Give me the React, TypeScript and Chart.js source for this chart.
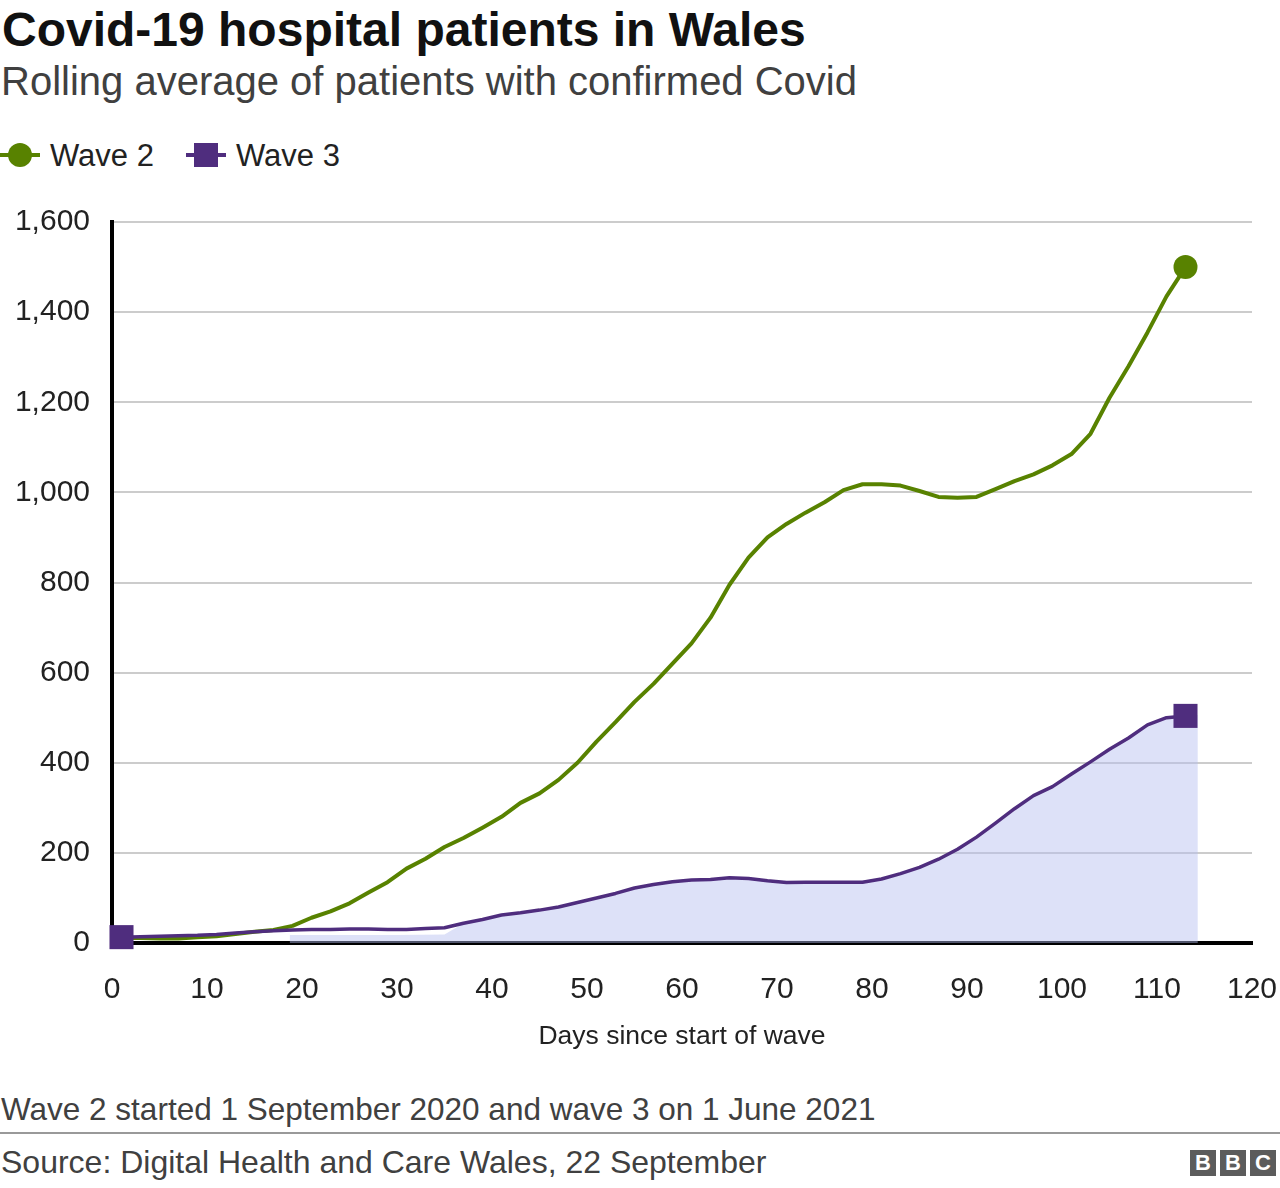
import React, { useEffect, useRef } from 'react';
import { Chart, registerables } from 'chart.js';

Chart.register(...registerables);

// ---------- data ----------
const days = [
  1, 3, 5, 7, 9, 11, 13, 15, 17, 19, 21, 23, 25, 27, 29, 31, 33, 35, 37, 39,
  41, 43, 45, 47, 49, 51, 53, 55, 57, 59, 61, 63, 65, 67, 69, 71, 73, 75, 77, 79,
  81, 83, 85, 87, 89, 91, 93, 95, 97, 99, 101, 103, 105, 107, 109, 111, 113,
];
const wave2Values = [
  11, 11, 10, 10, 13, 15, 20, 25, 29, 38, 56, 70, 88, 112, 135, 165, 187, 213, 233, 256,
  280, 311, 332, 362, 400, 447, 490, 535, 575, 620, 665, 722, 795, 855, 900, 930, 955, 978, 1005, 1018,
  1018, 1015, 1003, 990, 988, 990, 1007, 1025, 1040, 1060, 1085, 1130, 1210, 1280, 1355, 1435, 1500,
];
const wave3Values = [
  13, 14, 15, 16, 17, 19, 22, 25, 27, 29, 30, 30, 31, 31, 30, 30, 32, 34, 44, 52,
  62, 67, 73, 80, 90, 100, 110, 122, 130, 136, 140, 141, 145, 143, 138, 134, 135, 135, 135, 135,
  142, 154, 168, 186, 208, 235, 266, 298, 327, 347, 375, 402, 430, 455, 484, 500, 504,
];
const areaDays = [
  18.7, 25, 30, 35, 37, 41, 45, 49, 53, 57, 61, 65, 69, 73, 77, 81, 85, 89, 93, 97,
  101, 105, 109, 111, 113, 114.3, 114.3,
];
const areaValues = [
  18, 18, 18, 19, 44, 62, 73, 90, 110, 130, 140, 145, 138, 135, 135, 142, 168, 208, 266, 327,
  375, 430, 484, 500, 504, 506, 0,
];
const xTickValues = [0, 10, 20, 30, 40, 50, 60, 70, 80, 90, 100, 110, 120];
const yTickValues = [0, 200, 400, 600, 800, 1000, 1200, 1400, 1600];

const seriesNames = ['Wave 2', 'Wave 3'];
const TITLE = 'Covid-19 hospital patients in Wales';
const SUBTITLE = 'Rolling average of patients with confirmed Covid';
const X_TITLE = 'Days since start of wave';
const NOTE = 'Wave 2 started 1 September 2020 and wave 3 on 1 June 2021';
const SOURCE = 'Source: Digital Health and Care Wales, 22 September';

// ---------- styles ----------
const FONT = '"Liberation Sans", Arial, Helvetica, sans-serif';
const GREEN = '#588200';
const PURPLE = '#4f2d7e';
const AREA = 'rgba(180,188,240,0.45)';

const CANVAS_TOP = 180;
const CANVAS_H = 880;

export default function App() {
  const ref = useRef<HTMLCanvasElement | null>(null);

  useEffect(() => {
    const canvas = ref.current;
    if (!canvas) return;
    const last = days.length - 1;
    const chart = new Chart(canvas, {
      type: 'line',
      data: {
        datasets: [
          {
            label: seriesNames[1],
            data: days.map((d, i) => ({ x: d, y: wave3Values[i] })),
            borderColor: PURPLE,
            backgroundColor: PURPLE,
            borderWidth: 3.5,
            tension: 0,
            fill: false,
            pointStyle: 'rect',
            pointRadius: (ctx: any) => (ctx.dataIndex === 0 || ctx.dataIndex === last ? 17 : 0),
            pointBorderWidth: 0,
            clip: false,
            borderJoinStyle: 'round',
          } as any,
          {
            label: seriesNames[0],
            data: days.map((d, i) => ({ x: d, y: wave2Values[i] })),
            borderColor: GREEN,
            backgroundColor: GREEN,
            borderWidth: 4,
            tension: 0,
            fill: false,
            pointStyle: 'circle',
            pointRadius: (ctx: any) => (ctx.dataIndex === last ? 12 : 0),
            pointBorderWidth: 0,
            clip: false,
            borderJoinStyle: 'round',
          } as any,
          {
            label: 'area',
            data: areaDays.map((d, i) => ({ x: d, y: areaValues[i] })),
            borderWidth: 0,
            borderColor: 'rgba(0,0,0,0)',
            backgroundColor: AREA,
            pointRadius: 0,
            tension: 0,
            fill: 'origin',
          } as any,
        ],
      },
      options: {
        animation: false,
        responsive: false,
        maintainAspectRatio: false,
        events: [],
        layout: { padding: { top: 42, right: 28, bottom: 0, left: 0 } },
        plugins: {
          legend: { display: false },
          tooltip: { enabled: false },
          title: { display: false },
        },
        scales: {
          x: {
            type: 'linear',
            min: 0,
            max: 120,
            afterBuildTicks: (s: any) => {
              s.ticks = xTickValues.map((v) => ({ value: v }));
            },
            afterFit: (s: any) => {
              s.height = 117;
              s.paddingLeft = 0;
              s.paddingRight = 0;
            },
            grid: { display: false, drawTicks: false },
            border: { display: true, color: '#000', width: 4 },
            ticks: {
              color: '#222',
              padding: 29,
              maxRotation: 0,
              autoSkip: false,
              font: { family: FONT, size: 30 },
            },
          },
          y: {
            type: 'linear',
            min: 0,
            max: 1600,
            afterBuildTicks: (s: any) => {
              s.ticks = yTickValues.map((v) => ({ value: v }));
            },
            afterFit: (s: any) => {
              s.width = 112;
              s.paddingTop = 0;
              s.paddingBottom = 0;
            },
            grid: { color: '#cccccc', lineWidth: 2, drawTicks: false },
            border: { display: true, color: '#000', width: 4 },
            ticks: {
              color: '#222',
              padding: 22,
              autoSkip: false,
              font: { family: FONT, size: 30 },
              callback: (v: any) => Number(v).toLocaleString('en-US'),
            },
          },
        },
      } as any,
    });
    return () => chart.destroy();
  }, []);

  const abs = (extra: React.CSSProperties): React.CSSProperties => ({
    position: 'absolute',
    whiteSpace: 'nowrap',
    margin: 0,
    fontFamily: FONT,
    ...extra,
  });

  return (
    <div
      style={{
        position: 'absolute',
        left: 0,
        top: 0,
        width: 1280,
        height: 1188,
        background: '#fff',
        overflow: 'hidden',
        fontFamily: FONT,
      }}
    >
      <div style={abs({ left: 2, top: 6, fontSize: 48, lineHeight: '48px', fontWeight: 'bold', color: '#111' })}>
        {TITLE}
      </div>
      <div style={abs({ left: 1, top: 61, fontSize: 40, lineHeight: '40px', color: '#404040' })}>{SUBTITLE}</div>

      {/* legend */}
      <div style={abs({ left: 0, top: 153, width: 40, height: 4, background: GREEN })} />
      <div style={abs({ left: 8, top: 143, width: 24, height: 24, borderRadius: 12, background: GREEN })} />
      <div style={abs({ left: 50, top: 140, fontSize: 31, lineHeight: '31px', color: '#222' })}>{seriesNames[0]}</div>
      <div style={abs({ left: 186, top: 153, width: 40, height: 4, background: PURPLE })} />
      <div style={abs({ left: 194, top: 143, width: 24, height: 24, background: PURPLE })} />
      <div style={abs({ left: 236, top: 140, fontSize: 31, lineHeight: '31px', color: '#222' })}>{seriesNames[1]}</div>

      <canvas
        ref={ref}
        width={1280}
        height={CANVAS_H}
        style={{ position: 'absolute', left: 0, top: CANVAS_TOP, width: 1280, height: CANVAS_H }}
      />

      <div
        style={abs({
          left: 112,
          width: 1140,
          textAlign: 'center',
          top: 1022,
          fontSize: 26.5,
          lineHeight: '26.5px',
          color: '#222',
        })}
      >
        {X_TITLE}
      </div>

      <div style={abs({ left: 1, top: 1094, fontSize: 31.5, lineHeight: '31.5px', color: '#404040' })}>{NOTE}</div>
      <div style={abs({ left: 0, top: 1132, width: 1280, height: 2, background: '#999' })} />
      <div style={abs({ left: 1, top: 1146, fontSize: 32, lineHeight: '32px', color: '#404040' })}>{SOURCE}</div>

      {/* BBC logo */}
      {['B', 'B', 'C'].map((c, i) => (
        <div
          key={i}
          style={abs({
            left: 1190 + i * 30,
            top: 1150,
            width: 26,
            height: 26,
            background: '#5c5c5c',
            color: '#fff',
            fontWeight: 'bold',
            fontSize: 22,
            lineHeight: '26px',
            textAlign: 'center',
          })}
        >
          {c}
        </div>
      ))}
    </div>
  );
}
